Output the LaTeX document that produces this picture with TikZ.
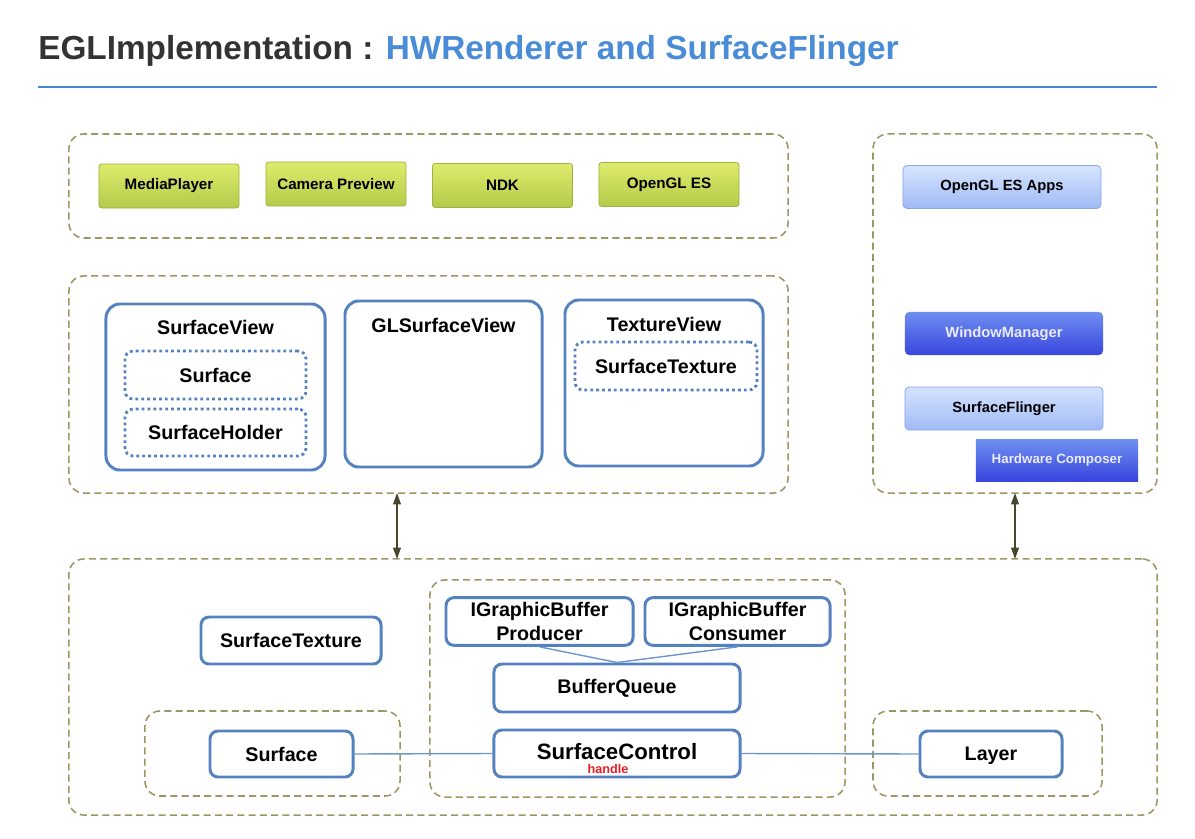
\documentclass[tikz,border=0pt]{standalone}
\usepackage{fontspec}
\setmainfont{Liberation Sans}
\usetikzlibrary{arrows.meta}

\definecolor{titledark}{RGB}{51,51,51}
\definecolor{titleblue}{RGB}{74,140,215}
\definecolor{rulecol}{RGB}{74,134,208}
\definecolor{groupline}{RGB}{158,148,100}
\definecolor{boxline}{RGB}{84,130,192}
\definecolor{linkline}{RGB}{110,150,205}
\definecolor{arrowcol}{RGB}{74,70,45}
\definecolor{greentop}{RGB}{222,235,108}
\definecolor{greenbot}{RGB}{180,202,74}
\definecolor{greenline}{RGB}{160,176,70}
\definecolor{lighttop}{RGB}{214,228,255}
\definecolor{lightbot}{RGB}{160,186,245}
\definecolor{lightline}{RGB}{140,166,240}
\definecolor{darktop}{RGB}{110,142,240}
\definecolor{darkbot}{RGB}{56,70,222}
\definecolor{handlered}{RGB}{235,30,40}

\begin{document}
\begin{tikzpicture}[x=0.025cm, y=-0.025cm,
  group/.style={draw=groupline, dash pattern=on 5pt off 3pt, line width=1.1pt,
    rounded corners=0.375cm, inner sep=0pt, outer sep=0pt},
  greenbox/.style={draw=greenline, line width=0.6pt, rounded corners=2pt,
    top color=greentop, bottom color=greenbot, minimum width=3.5cm, minimum height=1.1cm,
    font=\bfseries\fontsize{10.8}{12}\selectfont},
  lightbox/.style={draw=lightline, line width=0.6pt, rounded corners=3pt,
    top color=lighttop, bottom color=lightbot, minimum width=4.95cm, minimum height=1.075cm,
    font=\bfseries\fontsize{10.5}{12}\selectfont},
  darkbox/.style={top color=darktop, bottom color=darkbot, text=white!92!blue,
    minimum height=1.075cm, font=\bfseries\fontsize{10.5}{12}\selectfont},
  viewbox/.style={draw=boxline, line width=2.1pt, rounded corners=0.35cm, minimum height=4.15cm},
  dotbox/.style={draw=boxline, line width=2pt, dash pattern=on 2pt off 2.2pt, rounded corners=0.2cm,
    minimum height=1.2cm, font=\bfseries\fontsize{14}{16}\selectfont},
  bluebox/.style={draw=boxline, line width=2.1pt, rounded corners=0.2cm, fill=white,
    minimum height=1.175cm, align=center, font=\bfseries\fontsize{14}{17}\selectfont},
  viewtitle/.style={font=\bfseries\fontsize{14}{16}\selectfont},
  link/.style={draw=linkline, line width=1pt},
  updown/.style={{Triangle[length=8pt,width=5.5pt]}-{Triangle[length=8pt,width=5.5pt]}, draw=arrowcol, line width=1pt}]
	\useasboundingbox (0,0) rectangle (1195,839);

	% title
	\node[anchor=base west, inner sep=0pt, font=\bfseries\fontsize{23.7}{28}\selectfont] (title) at (38,60)
		{\textcolor{titledark}{EGLImplementation :} \textcolor{titleblue}{HWRenderer and SurfaceFlinger}};
	\draw[rulecol, line width=1pt] (38,87) -- (1157,87);

	% dashed groups
	\node[group, minimum width=17.975cm, minimum height=2.6cm] (apps) at (428.5,186) {};
	\node[group, minimum width=17.975cm, minimum height=5.425cm] (views) at (428.5,384.5) {};
	\node[group, minimum width=7.1cm, minimum height=8.975cm] (system) at (1015,313.5) {};
	\node[group, minimum width=27.2cm, minimum height=6.4cm] (native) at (613,687) {};
	\node[group, minimum width=10.375cm, minimum height=5.425cm] (bq-group) at (637.5,688.5) {};
	\node[group, minimum width=6.375cm, minimum height=2.125cm] (surface-group) at (272.5,753.5) {};
	\node[group, minimum width=5.725cm, minimum height=2.125cm] (layer-group) at (987.5,753.5) {};

	% applications
	\node[greenbox] (mediaplayer) at (169,186) {MediaPlayer};
	\node[greenbox] (camera) at (336,184) {Camera Preview};
	\node[greenbox] (ndk) at (502.5,185.5) {NDK};
	\node[greenbox] (opengl) at (669,184.5) {OpenGL ES};

	% views
	\node[viewbox, minimum width=5.475cm] (surfaceview) at (215.5,387) {};
	\node[viewtitle] (surfaceview-title) at (215.5,327) {SurfaceView};
	\node[dotbox, minimum width=4.525cm] (sv-surface) at (215.5,375) {Surface};
	\node[dotbox, minimum width=4.525cm, minimum height=1.175cm] (sv-holder) at (215.5,432.5) {SurfaceHolder};

	\node[viewbox, minimum width=4.925cm] (glsurfaceview) at (443.5,384) {};
	\node[viewtitle] (glsurfaceview-title) at (443.5,325) {GLSurfaceView};

	\node[viewbox, minimum width=4.95cm] (textureview) at (664,383) {};
	\node[viewtitle] (textureview-title) at (664,324) {TextureView};
	\node[dotbox, minimum width=4.55cm] (tv-texture) at (666,366) {SurfaceTexture};

	% system side
	\node[lightbox] (glapps) at (1002,187) {OpenGL ES Apps};
	\node[darkbox, minimum width=4.95cm, rounded corners=3pt] (windowmanager) at (1004,333.5) {WindowManager};
	\node[lightbox] (surfaceflinger) at (1004,408.5) {SurfaceFlinger};
	\node[darkbox, minimum width=4.05cm, minimum height=1.025cm, font=\bfseries\fontsize{9.5}{11}\selectfont] (hwcomposer) at (1057,460.5) {Hardware Composer};

	% arrows between layers
	\coordinate (link-left) at (397,0);
	\draw[updown] (views.south -| link-left) -- (native.north -| link-left);
	\draw[updown] (system.south) -- (native.north -| system.south);

	% native side
	\node[bluebox, minimum width=4.5cm] (surfacetexture) at (291,640.5) {SurfaceTexture};
	\node[bluebox, minimum width=4.675cm] (producer) at (539.5,621.5) {IGraphicBuffer\\Producer};
	\node[bluebox, minimum width=4.625cm] (consumer) at (737.5,621.5) {IGraphicBuffer\\Consumer};
	\node[bluebox, minimum width=6.15cm, minimum height=1.2cm] (bufferqueue) at (617,688) {BufferQueue};
	\node[bluebox, minimum width=6.15cm] (surfacecontrol) at (617,753.5) {};
	\node[font=\bfseries\fontsize{15.8}{18}\selectfont] (surfacecontrol-title) at (617,752) {SurfaceControl};
	\node[text=handlered, font=\bfseries\fontsize{9}{10}\selectfont, inner sep=0pt] (handle) at (608,769) {handle};
	\node[bluebox, minimum width=3.575cm, minimum height=1.15cm] (surface) at (281.5,754) {Surface};
	\node[bluebox, minimum width=3.55cm, minimum height=1.15cm, text depth=0pt] (layer) at (991,754) {Layer};

	\draw[link] (producer.south) -- (bufferqueue.north);
	\draw[link] (consumer.south) -- (bufferqueue.north);
	\draw[link] (surface.east) -- (surfacecontrol.west);
	\draw[link] (surfacecontrol.east) -- (layer.west);
\end{tikzpicture}
\end{document}
